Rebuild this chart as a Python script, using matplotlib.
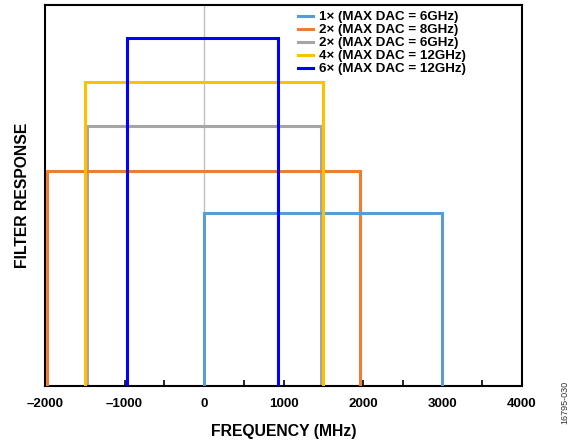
import matplotlib
matplotlib.use("Agg")
import matplotlib.pyplot as plt
from matplotlib.ticker import MultipleLocator

labels = ["1× (MAX DAC = 6GHz)", "2× (MAX DAC = 8GHz)", "2× (MAX DAC = 6GHz)",
          "4× (MAX DAC = 12GHz)", "6× (MAX DAC = 12GHz)"]
colors = ["#5B9BD5", "#ED7D31", "#A5A5A5", "#FFC000", "#0000FF"]
lows = [0, -1980, -1475, -1500, -965]
highs = [3000, 1960, 1475, 1500, 935]
levels = [0.454, 0.564, 0.682, 0.798, 0.913]
xticks = [-2000, -1000, 0, 1000, 2000, 3000, 4000]

plt.rcParams['font.family'] = ['Liberation Sans', 'DejaVu Sans']
fig = plt.figure(figsize=(5.78, 4.43), dpi=100)
ax = fig.add_axes([0.078, 0.129, 0.825, 0.86])

ax.axvline(0, color="#BFBFBF", lw=1.0, zorder=1)
order = [2, 1, 0, 3, 4]
handles = {}
for i in order:
    x = [lows[i], lows[i], highs[i], highs[i]]
    y = [0, levels[i], levels[i], 0]
    h, = ax.plot(x, y, color=colors[i], lw=2.2, solid_joinstyle='miter', zorder=2 + order.index(i))
    handles[i] = h

ax.set_xlim(-2000, 4000)
ax.set_ylim(0, 1)
ax.set_xticks(xticks)
ax.set_xticklabels(["–2000" if v == -2000 else ("–1000" if v == -1000 else str(v)) for v in xticks],
                   fontweight='bold', fontsize=9.6)
ax.xaxis.set_minor_locator(MultipleLocator(500))
ax.tick_params(axis='x', which='both', direction='in', length=4, width=1.2, pad=9, top=False)
ax.set_yticks([])
for s in ax.spines.values():
    s.set_linewidth(1.5)

ax.set_xlabel("FREQUENCY (MHz)", fontweight='bold', fontsize=11.3, labelpad=10)
ax.set_ylabel("FILTER RESPONSE", fontweight='bold', fontsize=11.3, labelpad=11)

leg = ax.legend([handles[i] for i in range(5)], labels, loc='upper left',
                bbox_to_anchor=(0.505, 1.015), frameon=False, handlelength=1.1,
                handletextpad=0.5, labelspacing=0.05,
                prop={'weight': 'bold', 'size': 9.6})

fig.text(0.978, 0.092, "16795-030", rotation=90, fontsize=6.5, color="#333333",
         ha='center', va='center')

fig.savefig("out.png", dpi=100)
